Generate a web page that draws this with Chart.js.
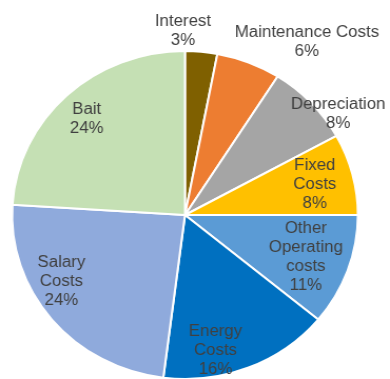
<!DOCTYPE html>
<html>
<head>
<meta charset="utf-8">
<script src="https://cdn.jsdelivr.net/npm/chart.js@4/dist/chart.umd.min.js"></script>
<style>
  html, body { margin: 0; padding: 0; background: #fff; overflow: hidden; }
  #wrap { width: 370px; height: 379px; transform: scaleX(1.054); transform-origin: 0 0; }
</style>
</head>
<body>
<div id="wrap"><canvas id="costs"></canvas></div>
<script>
// cost breakdown, clockwise from 12 o'clock
const categories = [
  ['Interest'],
  ['Maintenance Costs'],
  ['Depreciation'],
  ['Fixed', 'Costs'],
  ['Other', 'Operating', 'costs'],
  ['Energy', 'Costs'],
  ['Salary', 'Costs'],
  ['Bait']
];
const shares = [3, 6, 8, 8, 11, 16, 24, 24];
const sliceColors = ['#7F6000', '#ED7D31', '#A5A5A5', '#FFC000', '#5B9BD5', '#0070C0', '#8FAADC', '#C5E0B4'];

// label anchor: fraction of radius and angle shift (deg) from the slice middle
const labelRadius = [1.122, 1.268, 1.079, 0.774, 0.744, 0.848, 0.823, 0.817];
const labelShift = [-6.0, 12.2, 8.4, 0.4, 0.2, 9.6, 9.9, -0.9];

const sliceLabels = {
  id: 'sliceLabels',
  afterDatasetsDraw(chart) {
    const ctx = chart.ctx;
    const meta = chart.getDatasetMeta(0);
    const total = shares.reduce((a, b) => a + b, 0);
    ctx.save();
    ctx.font = '16px "Liberation Sans", Arial, sans-serif';
    ctx.fillStyle = '#404040';
    ctx.textAlign = 'center';
    ctx.textBaseline = 'middle';
    const lineH = 19;
    meta.data.forEach((arc, i) => {
      const { x, y, startAngle, endAngle, outerRadius } = arc.getProps(['x', 'y', 'startAngle', 'endAngle', 'outerRadius'], true);
      const mid = (startAngle + endAngle) / 2 + labelShift[i] * Math.PI / 180;
      const r = outerRadius * labelRadius[i];
      const lx = x + Math.cos(mid) * r;
      const ly = y + Math.sin(mid) * r;
      const lines = categories[i].concat([Math.round(shares[i] / total * 100) + '%']);
      const top = ly - (lines.length - 1) * lineH / 2;
      lines.forEach((t, k) => ctx.fillText(t, lx, top + k * lineH));
    });
    ctx.restore();
  }
};

new Chart(document.getElementById('costs'), {
  type: 'pie',
  data: {
    labels: categories.map(c => c.join(' ')),
    datasets: [{
      data: shares,
      backgroundColor: sliceColors,
      borderColor: '#ffffff',
      borderWidth: 2,
      hoverOffset: 0
    }]
  },
  options: {
    responsive: true,
    maintainAspectRatio: false,
    animation: false,
    radius: 164,
    layout: { padding: { top: 51, bottom: 0, left: 11.5, right: 30.5 } },
    plugins: {
      legend: { display: false },
      tooltip: { enabled: false }
    }
  },
  plugins: [sliceLabels]
});
</script>
</body>
</html>
